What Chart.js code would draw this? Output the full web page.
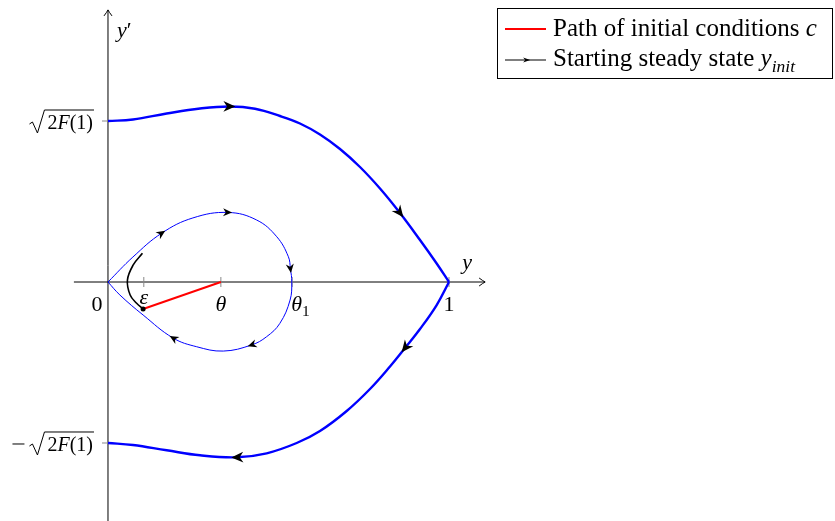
<!DOCTYPE html>
<html>
<head>
<meta charset="utf-8">
<script src="https://cdn.jsdelivr.net/npm/chart.js@4.4.0/dist/chart.umd.min.js"></script>
<style>
  body { margin: 0; background: #fff; }
  canvas { display: block; }
</style>
</head>
<body>
<canvas id="phase" width="835" height="521"></canvas>
<script>
// phase plane: y on x axis, y' on vertical axis (y' = 1 means sqrt(2F(1)))
const upperX = [0, 0.0733, 0.1721, 0.2698, 0.3578, 0.4311, 0.5044, 0.5630, 0.6217, 0.6804, 0.7390, 0.7977, 0.8563, 0.9150, 0.9639, 1];
const upperY = [1, 1.0093, 1.0466, 1.0776, 1.0901, 1.0758, 1.0311, 0.9845, 0.9161, 0.8261, 0.7143, 0.5807, 0.4286, 0.2609, 0.1149, 0];
const lowerX = [1, 0.9639, 0.9150, 0.8710, 0.8270, 0.7683, 0.7000, 0.6217, 0.5534, 0.4654, 0.3774, 0.2698, 0.1721, 0.0733, 0];
const lowerY = [0, -0.1429, -0.2919, -0.4099, -0.5248, -0.6646, -0.8012, -0.9255, -1.0000, -1.0640, -1.0888, -1.0764, -1.0453, -1.0124, -1];
const loopX = [0, 0.073, 0.158, 0.249, 0.352, 0.436, 0.495, 0.529, 0.535, 0.539, 0.534, 0.504, 0.465, 0.421, 0.338, 0.260, 0.191, 0.103, 0.035, 0];
const loopY = [0, 0.155, 0.304, 0.398, 0.432, 0.385, 0.281, 0.157, 0.081, 0, -0.112, -0.257, -0.340, -0.391, -0.429, -0.402, -0.348, -0.205, -0.081, 0];
const steadyX = [0.101, 0.074, 0.057, 0.065, 0.084, 0.103];
const steadyY = [0.178, 0.106, 0.012, -0.081, -0.132, -0.168];
const pathX = [0.103, 0.331];
const pathY = [-0.168, 0];

// indices of points that carry a direction arrow
const upperArrows = [4, 12];
const lowerArrows = [3, 10];
const loopArrows = [2, 4, 8, 13, 16];

// tick values and their labels
const xTicks = [0, 0.105, 0.331, 0.54, 1];
const xTickNames = ['0', 'ε', 'θ', 'θ1', '1'];
const yTicks = [1, -1];
const yTickNames = ['√2F(1)', '−√2F(1)'];

const SERIF = "'Liberation Serif', 'DejaVu Serif', serif";

function pts(xs, ys) {
  return xs.map((x, i) => ({ x: x, y: ys[i] }));
}

// stealth-like arrow head at (x,y) pointing along angle a
function arrowHead(ctx, x, y, a, len, half) {
  ctx.save();
  ctx.translate(x, y);
  ctx.rotate(a);
  ctx.beginPath();
  ctx.moveTo(len * 0.45, 0);
  ctx.lineTo(-len * 0.55, -half);
  ctx.lineTo(-len * 0.25, 0);
  ctx.lineTo(-len * 0.55, half);
  ctx.closePath();
  ctx.fillStyle = '#000';
  ctx.fill();
  ctx.restore();
}

// write runs of text: {t, it, sub}
function mathText(ctx, runs, x, y, size, align) {
  const fontOf = r => (r.it ? 'italic ' : '') + (r.sub ? size * 0.7 : size) + 'px ' + SERIF;
  let w = 0;
  runs.forEach(r => { ctx.font = fontOf(r); w += ctx.measureText(r.t).width; });
  let cx = align === 'center' ? x - w / 2 : align === 'right' ? x - w : x;
  ctx.textAlign = 'left';
  ctx.textBaseline = 'alphabetic';
  runs.forEach(r => {
    ctx.font = fontOf(r);
    ctx.fillText(r.t, cx, r.sub ? y + size * 0.22 : y);
    cx += ctx.measureText(r.t).width;
  });
  return w;
}

function sqrtLabel(ctx, neg, right, mid) {
  const size = 20;
  ctx.fillStyle = '#000';
  const inner = [{ t: '2' }, { t: 'F', it: true }, { t: '(1)' }];
  const w = mathText(ctx, inner, right, mid + 8, size, 'right');
  const left = right - w;
  // radical sign
  ctx.beginPath();
  ctx.lineWidth = 1;
  ctx.strokeStyle = '#000';
  ctx.moveTo(left - 18, mid + 3);
  ctx.lineTo(left - 15, mid + 1);
  ctx.lineTo(left - 10, mid + 12);
  ctx.lineTo(left - 3, mid - 11);
  ctx.lineTo(right + 1, mid - 11);
  ctx.stroke();
  if (neg) {
    ctx.beginPath();
    ctx.moveTo(left - 35, mid + 1);
    ctx.lineTo(left - 23, mid + 1);
    ctx.stroke();
  }
}

const axesPlugin = {
  id: 'phaseAxes',
  beforeDatasetsDraw(chart) {
    const ctx = chart.ctx;
    const xs = chart.scales.x, ys = chart.scales.y;
    const x0 = xs.getPixelForValue(0), y0 = ys.getPixelForValue(0);
    ctx.save();
    ctx.strokeStyle = '#000';
    ctx.lineWidth = 1;
    // horizontal axis
    ctx.beginPath();
    ctx.moveTo(xs.getPixelForValue(-0.1), y0);
    ctx.lineTo(xs.getPixelForValue(1.106), y0);
    ctx.stroke();
    // vertical axis
    ctx.beginPath();
    ctx.moveTo(x0, ys.getPixelForValue(ys.min));
    ctx.lineTo(x0, ys.getPixelForValue(1.69));
    ctx.stroke();
    const tipX = xs.getPixelForValue(1.106), tipY = ys.getPixelForValue(1.69);
    ctx.beginPath();
    ctx.moveTo(tipX - 6, y0 - 4); ctx.quadraticCurveTo(tipX - 2, y0 - 1, tipX, y0);
    ctx.quadraticCurveTo(tipX - 2, y0 + 1, tipX - 6, y0 + 4);
    ctx.stroke();
    ctx.beginPath();
    ctx.moveTo(x0 - 4, tipY + 6); ctx.quadraticCurveTo(x0 - 1, tipY + 2, x0, tipY);
    ctx.quadraticCurveTo(x0 + 1, tipY + 2, x0 + 4, tipY + 6);
    ctx.stroke();

    // tick marks
    ctx.strokeStyle = '#888';
    xTicks.forEach(v => {
      if (v === 0) return;
      const px = xs.getPixelForValue(v);
      ctx.beginPath(); ctx.moveTo(px, y0 - 5); ctx.lineTo(px, y0 + 5); ctx.stroke();
    });
    yTicks.forEach(v => {
      const py = ys.getPixelForValue(v);
      ctx.beginPath(); ctx.moveTo(x0 - 6, py); ctx.lineTo(x0, py); ctx.stroke();
    });

    // tick labels
    ctx.fillStyle = '#000';
    xTicks.forEach((v, i) => {
      const px = xs.getPixelForValue(v);
      const name = xTickNames[i];
      if (name === '0') mathText(ctx, [{ t: '0' }], px - 11, y0 + 29, 22, 'center');
      else if (name === 'ε') mathText(ctx, [{ t: 'ε', it: true }], px, y0 + 22, 22, 'center');
      else if (name === 'θ1') mathText(ctx, [{ t: 'θ', it: true }, { t: '1', sub: true }], px - 1, y0 + 29, 22, 'left');
      else if (name === 'θ') mathText(ctx, [{ t: 'θ', it: true }], px, y0 + 29, 22, 'center');
      else mathText(ctx, [{ t: name }], px, y0 + 29, 22, 'center');
    });
    yTicks.forEach((v, i) => {
      sqrtLabel(ctx, yTickNames[i].startsWith('−'), x0 - 15, ys.getPixelForValue(v));
    });

    // axis names
    mathText(ctx, [{ t: 'y', it: true }], tipX - 23, y0 - 13, 22, 'left');
    mathText(ctx, [{ t: 'y', it: true }, { t: '′' }], x0 + 9, tipY + 27, 22, 'left');
    ctx.restore();
  },
  afterDatasetsDraw(chart) {
    const ctx = chart.ctx;
    chart.data.datasets.forEach((ds, d) => {
      const meta = chart.getDatasetMeta(d);
      (ds.arrows || []).forEach(i => {
        const p = meta.data[i], a = meta.data[i - 1], b = meta.data[i + 1];
        const ang = Math.atan2(b.y - a.y, b.x - a.x);
        arrowHead(ctx, p.x, p.y, ang, ds.arrowSize, ds.arrowSize * 0.45);
      });
    });
    // dot at the start of the path of initial conditions
    const m = chart.getDatasetMeta(4).data[0];
    ctx.beginPath();
    ctx.arc(m.x, m.y, 2.5, 0, Math.PI * 2);
    ctx.fillStyle = '#000';
    ctx.fill();
  },
  afterDraw(chart) {
    const ctx = chart.ctx;
    ctx.save();
    ctx.strokeStyle = '#000';
    ctx.lineWidth = 1;
    ctx.strokeRect(497.5, 8.5, 335, 70);
    // entry 1
    ctx.strokeStyle = '#ff0000';
    ctx.lineWidth = 2;
    ctx.beginPath(); ctx.moveTo(505, 29); ctx.lineTo(546, 29); ctx.stroke();
    ctx.fillStyle = '#000';
    mathText(ctx, [{ t: 'Path of initial conditions ' }, { t: 'c', it: true }], 553, 36, 25, 'left');
    // entry 2
    ctx.strokeStyle = '#000';
    ctx.lineWidth = 1.2;
    ctx.beginPath(); ctx.moveTo(505, 60); ctx.lineTo(546, 60); ctx.stroke();
    arrowHead(ctx, 527, 60, 0, 7, 2.5);
    mathText(ctx, [{ t: 'Starting steady state ' }, { t: 'y', it: true }, { t: 'init', it: true, sub: true }], 553, 66, 25, 'left');
    ctx.restore();
  }
};

new Chart(document.getElementById('phase'), {
  type: 'scatter',
  data: {
    datasets: [
      { data: pts(upperX, upperY), borderColor: '#0000ff', borderWidth: 2.4, tension: 0.4, arrows: upperArrows, arrowSize: 12 },
      { data: pts(lowerX, lowerY), borderColor: '#0000ff', borderWidth: 2.4, tension: 0.4, arrows: lowerArrows, arrowSize: 12 },
      { data: pts(loopX, loopY), borderColor: '#0000ff', borderWidth: 1, tension: 0.4, arrows: loopArrows, arrowSize: 9 },
      { data: pts(steadyX, steadyY), borderColor: '#000', borderWidth: 1.6, tension: 0.4 },
      { data: pts(pathX, pathY), borderColor: '#ff0000', borderWidth: 2, tension: 0 }
    ].map(ds => Object.assign({ showLine: true, pointRadius: 0, pointHoverRadius: 0, fill: false }, ds))
  },
  options: {
    responsive: false,
    animation: false,
    events: [],
    layout: { padding: 0 },
    plugins: { legend: { display: false }, tooltip: { enabled: false } },
    scales: {
      x: { type: 'linear', display: false, min: -0.3167, max: 2.132 },
      y: { type: 'linear', display: false, min: -1.4845, max: 1.7516 }
    }
  },
  plugins: [axesPlugin]
});
</script>
</body>
</html>
